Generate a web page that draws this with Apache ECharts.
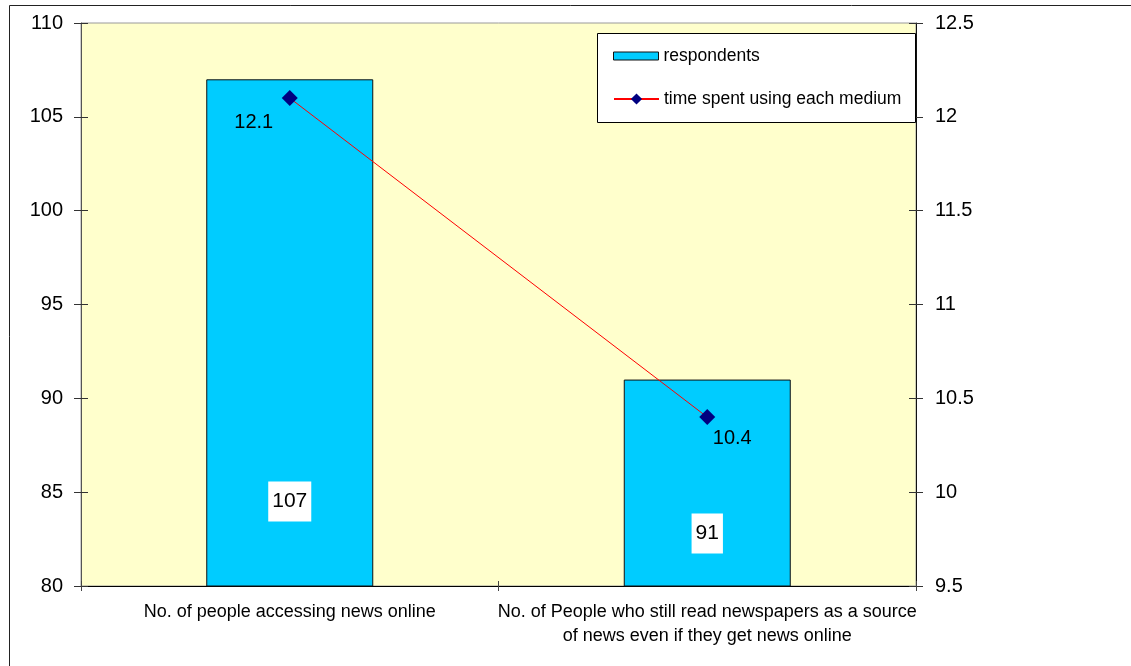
<!DOCTYPE html>
<html>
<head>
<meta charset="utf-8">
<script src="https://cdn.jsdelivr.net/npm/echarts@6/dist/echarts.min.js"></script>
<style>
  html, body { margin: 0; padding: 0; background: #fff; }
  #chart { width: 1131px; height: 666px; }
</style>
</head>
<body>
<div id="chart"></div>
<script>
// Survey categories and values
const categories = [
  'No. of people accessing news online',
  'No. of People who still read newspapers as a source\nof news even if they get news online'
];
const respondents = [107, 91];
const timeSpent = [12.1, 10.4];
const seriesNames = ['respondents', 'time spent using each medium'];

// Label placement for each bar / point
const barLabelDistance = [65, 33];
const lineLabelOffset = [[-36, 24], [25, 21]];

const FONT = '"Liberation Sans", Arial, sans-serif';

const chart = echarts.init(document.getElementById('chart'));

const leftAxisBase = { type: 'value', min: 80, max: 110, interval: 5 };
const rightAxisBase = { type: 'value', min: 9.5, max: 12.5, interval: 0.5 };

chart.setOption({
  backgroundColor: '#ffffff',
  animation: false,
  textStyle: { fontFamily: FONT },
  grid: {
    left: 81, right: 215, top: 23, bottom: 80,
    show: true,
    backgroundColor: '#FFFFCC',
    borderColor: '#9a9a9a',
    borderWidth: 1
  },
  graphic: [
    {
      type: 'rect',
      shape: { x: 9.5, y: 5.5, width: 1140, height: 680 },
      style: { fill: 'none', stroke: '#222', lineWidth: 1 },
      silent: true, z: -1
    },
    {
      type: 'rect',
      shape: { x: 597.5, y: 33.5, width: 318, height: 89 },
      style: { fill: '#ffffff', stroke: '#000', lineWidth: 1 },
      silent: true, z: 5
    }
  ],
  legend: [
    {
      data: [{ name: seriesNames[0], icon: 'rect' }],
      left: 613, top: 47, padding: 0,
      itemWidth: 45, itemHeight: 8,
      itemStyle: { borderColor: '#111', borderWidth: 1 },
      textStyle: { fontFamily: FONT, fontSize: 17.5, color: '#000' },
      z: 10
    },
    {
      data: [seriesNames[1]],
      left: 613, top: 90, padding: 0,
      itemWidth: 45, itemHeight: 14,
      textStyle: { fontFamily: FONT, fontSize: 17.5, color: '#000' },
      z: 10
    }
  ],
  xAxis: [
    {
      type: 'category',
      data: categories,
      axisLine: { show: true, lineStyle: { color: '#000', width: 1 } },
      axisTick: { show: true, inside: false, length: 5, lineStyle: { color: '#444' } },
      axisLabel: {
        fontFamily: FONT, fontSize: 18, color: '#000',
        margin: 14, lineHeight: 24, interval: 0
      }
    },
    {
      type: 'category',
      data: categories,
      position: 'bottom',
      axisLine: { show: false },
      axisTick: { show: true, inside: true, length: 5, lineStyle: { color: '#444' } },
      axisLabel: { show: false }
    }
  ],
  yAxis: [
    Object.assign({}, leftAxisBase, {
      position: 'left',
      axisLine: { show: true, lineStyle: { color: '#555', width: 1 } },
      axisTick: { show: true, length: 7, lineStyle: { color: '#333' } },
      axisLabel: { fontFamily: FONT, fontSize: 20, color: '#000', margin: 18 },
      splitLine: { show: false }
    }),
    Object.assign({}, rightAxisBase, {
      position: 'right',
      axisLine: { show: true, lineStyle: { color: '#111', width: 1 } },
      axisTick: { show: true, length: 7, lineStyle: { color: '#333' } },
      axisLabel: { fontFamily: FONT, fontSize: 20, color: '#000', margin: 19 },
      splitLine: { show: false }
    }),
    Object.assign({}, leftAxisBase, {
      position: 'left',
      axisLine: { show: false },
      axisTick: { show: true, inside: true, length: 7, lineStyle: { color: '#333' } },
      axisLabel: { show: false },
      splitLine: { show: false }
    }),
    Object.assign({}, rightAxisBase, {
      position: 'right',
      axisLine: { show: false },
      axisTick: { show: true, inside: true, length: 7, lineStyle: { color: '#333' } },
      axisLabel: { show: false },
      splitLine: { show: false }
    })
  ],
  series: [
    {
      name: seriesNames[0],
      type: 'bar',
      xAxisIndex: 0,
      yAxisIndex: 0,
      barWidth: '40%',
      itemStyle: { color: '#00CCFF', borderColor: '#111', borderWidth: 1 },
      label: {
        show: true,
        position: 'insideBottom',
        fontFamily: FONT, fontSize: 21, color: '#000',
        backgroundColor: '#ffffff',
        padding: [10, 4, 10, 4],
        lineHeight: 20
      },
      data: respondents.map((v, i) => ({
        value: v,
        label: { distance: barLabelDistance[i] }
      })),
      z: 2
    },
    {
      name: seriesNames[1],
      type: 'line',
      xAxisIndex: 0,
      yAxisIndex: 1,
      symbol: 'diamond',
      symbolSize: 16,
      itemStyle: { color: '#000080' },
      lineStyle: { color: '#FF0000', width: 1 },
      label: {
        show: true,
        position: 'inside',
        align: 'center',
        verticalAlign: 'middle',
        fontFamily: FONT, fontSize: 20, color: '#000'
      },
      data: timeSpent.map((v, i) => ({
        value: v,
        label: { offset: lineLabelOffset[i] }
      })),
      z: 3
    }
  ]
});
</script>
</body>
</html>
